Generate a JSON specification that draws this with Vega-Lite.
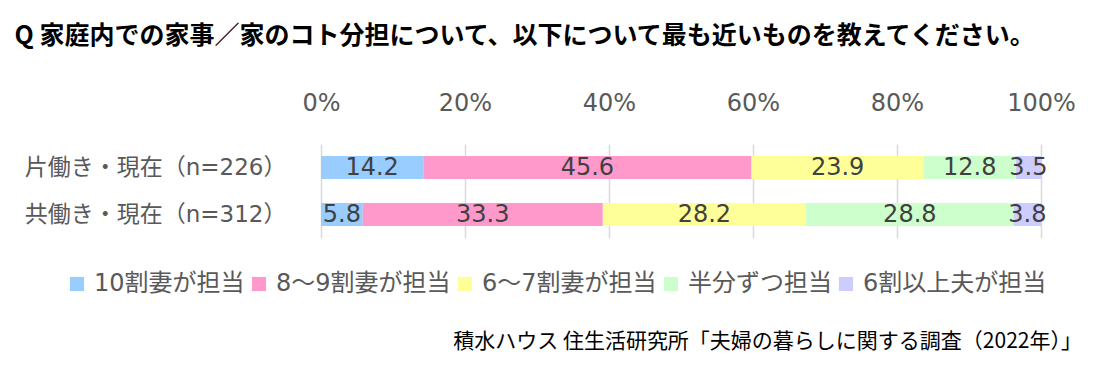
{
  "$schema": "https://vega.github.io/schema/vega-lite/v6.json",
  "width": 720,
  "height": 94,
  "autosize": {"type": "none"},
  "padding": {"left": 321, "top": 144, "right": 65, "bottom": 146},
  "background": "white",
  "config": {
    "font": "DejaVu Sans, Noto Sans CJK JP",
    "view": {"stroke": null}
  },
  "title": {
    "text": "積水ハウス 住生活研究所「夫婦の暮らしに関する調査（2022年）」",
    "orient": "bottom",
    "anchor": "end",
    "frame": "group",
    "fontSize": 21,
    "fontWeight": "normal",
    "color": "#000000",
    "font": "Noto Sans CJK JP",
    "offset": 35,
    "dx": 41
  },
  "data": {
    "values": [
      {"group": "片働き・現在（n=226）", "category": "10割妻が担当", "order": 1, "value": 14.2},
      {"group": "片働き・現在（n=226）", "category": "8〜9割妻が担当", "order": 2, "value": 45.6},
      {"group": "片働き・現在（n=226）", "category": "6〜7割妻が担当", "order": 3, "value": 23.9},
      {"group": "片働き・現在（n=226）", "category": "半分ずつ担当", "order": 4, "value": 12.8},
      {"group": "片働き・現在（n=226）", "category": "6割以上夫が担当", "order": 5, "value": 3.5},
      {"group": "共働き・現在（n=312）", "category": "10割妻が担当", "order": 1, "value": 5.8},
      {"group": "共働き・現在（n=312）", "category": "8〜9割妻が担当", "order": 2, "value": 33.3},
      {"group": "共働き・現在（n=312）", "category": "6〜7割妻が担当", "order": 3, "value": 28.2},
      {"group": "共働き・現在（n=312）", "category": "半分ずつ担当", "order": 4, "value": 28.8},
      {"group": "共働き・現在（n=312）", "category": "6割以上夫が担当", "order": 5, "value": 3.8}
    ]
  },
  "transform": [
    {
      "stack": "value",
      "groupby": ["group"],
      "sort": [{"field": "order", "order": "ascending"}],
      "offset": "normalize",
      "as": ["v0", "v1"]
    },
    {"calculate": "(datum.v0 + datum.v1) / 2", "as": "vmid"}
  ],
  "encoding": {
    "y": {
      "field": "group",
      "type": "nominal",
      "sort": ["片働き・現在（n=226）", "共働き・現在（n=312）"],
      "scale": {"paddingInner": 0.51, "paddingOuter": 0.255},
      "axis": {
        "title": null,
        "ticks": false,
        "domain": false,
        "labelFontSize": 23,
        "labelColor": "#595959",
        "labelPadding": 35,
        "labelLimit": 400
      }
    }
  },
  "layer": [
    {
      "mark": {"type": "bar"},
      "encoding": {
        "x": {
          "field": "v0",
          "type": "quantitative",
          "scale": {"domain": [0, 1]},
          "axis": {
            "orient": "top",
            "values": [0, 0.2, 0.4, 0.6, 0.8, 1],
            "format": ".0%",
            "ticks": false,
            "domain": false,
            "grid": true,
            "gridColor": "#D9D9D9",
            "gridWidth": 1.5,
            "labelFontSize": 24,
            "labelColor": "#595959",
            "labelPadding": 29,
            "labelFlush": false,
            "labelOverlap": false,
            "title": "Q 家庭内での家事／家のコト分担について、以下について最も近いものを教えてください。",
            "titleX": -307,
            "titleY": -109,
            "titleAlign": "left",
            "titleBaseline": "middle",
            "titleAngle": 0,
            "titleFontSize": 25,
            "titleFontWeight": "bold",
            "titleColor": "#000000",
            "titleFont": "Noto Sans CJK JP"
          }
        },
        "x2": {"field": "v1"},
        "color": {
          "field": "category",
          "type": "nominal",
          "sort": ["10割妻が担当", "8〜9割妻が担当", "6〜7割妻が担当", "半分ずつ担当", "6割以上夫が担当"],
          "scale": {
            "domain": ["10割妻が担当", "8〜9割妻が担当", "6〜7割妻が担当", "半分ずつ担当", "6割以上夫が担当"],
            "range": ["#99CCFF", "#FF99CC", "#FFFF99", "#CCFFCC", "#CCCCFF"]
          },
          "legend": {
            "orient": "none",
            "legendX": -256,
            "legendY": 128,
            "direction": "horizontal",
            "title": null,
            "symbolType": "square",
            "symbolSize": 200,
            "symbolStrokeWidth": 0,
            "labelFontSize": 24,
            "labelColor": "#595959",
            "labelOffset": 5,
            "labelLimit": 400,
            "columnPadding": 2
          }
        }
      }
    },
    {
      "mark": {"type": "text", "fontSize": 24, "color": "#404040"},
      "encoding": {
        "x": {"field": "vmid", "type": "quantitative"},
        "text": {"field": "value", "type": "quantitative", "format": ".1f"}
      }
    }
  ]
}
